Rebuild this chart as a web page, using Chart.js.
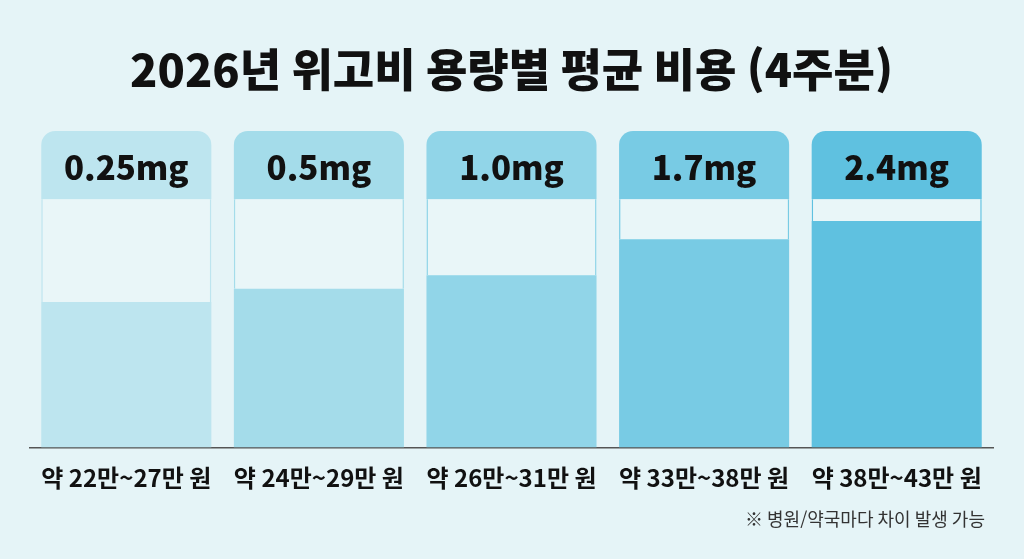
<!DOCTYPE html>
<html lang="ko">
<head>
<meta charset="utf-8">
<title>2026년 위고비 용량별 평균 비용 (4주분)</title>
<script src="https://cdn.jsdelivr.net/npm/chart.js@4.4.1/dist/chart.umd.min.js"></script>
<style>
  html, body { margin: 0; padding: 0; background: #e5f4f7; }
  #wrap { width: 1024px; height: 559px; }
</style>
</head>
<body>
<div id="wrap"><canvas id="doseChart" width="1024" height="559"></canvas></div>
<script>
// dose categories and price range labels
const doses = ['0.25mg', '0.5mg', '1.0mg', '1.7mg', '2.4mg'];
const priceLabels = ['약 22만~27만 원', '약 24만~29만 원', '약 26만~31만 원', '약 33만~38만 원', '약 38만~43만 원'];
// filled share of each column body, in % (column body top = 100)
const fillLevel = [58.6, 64.0, 69.4, 83.9, 91.3];
const bodyTop = 100;
const headerTop = 127.5;

const colColors = ['#bde5ef', '#a4dcea', '#91d5e8', '#78cbe4', '#5fc1e0'];
const FONT = '"Noto Sans CJK KR", "Noto Sans", sans-serif';

// draws dose names inside the header blocks
const doseLabels = {
  id: 'doseLabels',
  afterDatasetsDraw(chart) {
    const meta = chart.getDatasetMeta(2);
    const ctx = chart.ctx;
    ctx.save();
    ctx.font = '900 33px ' + FONT;
    ctx.fillStyle = '#111';
    ctx.textAlign = 'center';
    ctx.textBaseline = 'middle';
    meta.data.forEach((bar, i) => {
      const yMid = (bar.y + bar.base) / 2 + 2;
      ctx.fillText(doses[i], bar.x, yMid);
    });
    ctx.restore();
  }
};

new Chart(document.getElementById('doseChart'), {
  type: 'bar',
  data: {
    labels: priceLabels,
    datasets: [
      {
        label: 'fill',
        data: fillLevel.map(v => [0, v]),
        backgroundColor: colColors,
        borderWidth: 0,
        grouped: false
      },
      {
        label: 'gap',
        data: fillLevel.map(v => [v, bodyTop]),
        backgroundColor: '#e9f6f8',
        borderColor: colColors,
        borderWidth: { left: 1.5, right: 1.5, top: 0, bottom: 0 },
        borderSkipped: false,
        grouped: false
      },
      {
        label: 'header',
        data: doses.map(() => [bodyTop, headerTop]),
        backgroundColor: colColors,
        borderWidth: 0,
        borderRadius: { topLeft: 14, topRight: 14, bottomLeft: 0, bottomRight: 0 },
        borderSkipped: false,
        grouped: false
      }
    ]
  },
  options: {
    responsive: false,
    animation: false,
    layout: { padding: { left: 30, right: 31, top: 0, bottom: 0 } },
    datasets: { bar: { barPercentage: 0.883, categoryPercentage: 1 } },
    plugins: {
      legend: { display: false },
      tooltip: { enabled: false },
      title: {
        display: true,
        text: '2026년 위고비 용량별 평균 비용 (4주분)',
        color: '#111',
        font: { family: FONT, size: 45, weight: '900', lineHeight: 1.2 },
        padding: { top: 43, bottom: 34 }
      },
      subtitle: {
        display: true,
        position: 'bottom',
        align: 'end',
        text: '※ 병원/약국마다 차이 발생 가능  ',
        color: '#333',
        font: { family: FONT, size: 18, weight: 'normal', lineHeight: 1.2 },
        padding: { top: 0, bottom: 29 }
      }
    },
    scales: {
      x: {
        grid: { display: false, drawTicks: false },
        border: { display: true, color: '#555', width: 1.5 },
        ticks: {
          color: '#111',
          padding: 16,
          font: { family: FONT, size: 24, weight: 'bold', lineHeight: 1.2 }
        }
      },
      y: {
        display: false,
        min: 0,
        max: headerTop
      }
    }
  },
  plugins: [doseLabels]
});
</script>
</body>
</html>
